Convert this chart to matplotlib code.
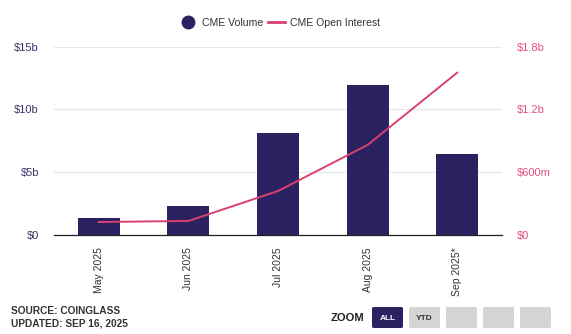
import matplotlib
matplotlib.use("Agg")
import matplotlib.pyplot as plt
from matplotlib.patches import FancyBboxPatch
from matplotlib.lines import Line2D

months = ["May 2025", "Jun 2025", "Jul 2025", "Aug 2025", "Sep 2025*"]
volume_b = [1.33, 2.31, 8.09, 11.93, 6.47]        # CME volume, $ billions
open_interest_b = [0.124, 0.134, 0.42, 0.86, 1.55]  # CME open interest, $ billions

vol_ticks = [0, 5, 10, 15]
vol_labels = ["$0", "$5b", "$10b", "$15b"]
oi_ticks = [0, 0.6, 1.2, 1.8]
oi_labels = ["$0", "$600m", "$1.2b", "$1.8b"]

navy = "#2b2262"
pink = "#d9416f"

plt.rcParams["font.family"] = ["Liberation Sans", "DejaVu Sans"]

W, H = 571, 334
fig = plt.figure(figsize=(W / 100, H / 100), dpi=100)
ax = fig.add_axes([54 / W, 1 - 235 / H, 448 / W, 188.5 / H])
ax2 = ax.twinx()

x = list(range(len(months)))
ax.bar(x, volume_b, width=0.47, color=navy, zorder=2)
ax2.plot(x, open_interest_b, color=pink, lw=1.4, zorder=3)

ax.set_xlim(-0.5, len(months) - 0.5)
ax.set_ylim(0, 15)
ax2.set_ylim(0, 1.8)

ax.set_yticks(vol_ticks)
ax.set_yticklabels(vol_labels, color="#3a3466", fontsize=8)
ax2.set_yticks(oi_ticks)
ax2.set_yticklabels(oi_labels, color="#e0507f", fontsize=8)
ax.set_xticks(x)
ax.set_xticklabels(months, rotation=90, fontsize=7.5, color="#333333")

ax.grid(axis="y", color="#e6e6e6", lw=0.8, zorder=0)
for a in (ax, ax2):
    for s in a.spines.values():
        s.set_visible(False)
    a.tick_params(length=0)
ax.spines["bottom"].set_visible(True)
ax.spines["bottom"].set_color("#222222")
ax.spines["bottom"].set_linewidth(0.9)
ax.tick_params(axis="y", pad=10.8)
ax2.tick_params(axis="y", pad=10.8)
ax.tick_params(axis="x", pad=9)
ax.set_zorder(ax2.get_zorder() - 1)
ax.patch.set_visible(False)

handles = [
    Line2D([], [], marker="o", color="none", markerfacecolor=navy,
           markeredgecolor=navy, markersize=9),
    Line2D([], [], color=pink, lw=2),
]
fig.legend(handles, ["CME Volume", "CME Open Interest"], loc="center",
           bbox_to_anchor=(280 / W, 1 - 22.5 / H), ncol=2, frameon=False,
           fontsize=7.6, handlelength=1.6, handletextpad=0.5, columnspacing=0.5,
           labelcolor="#333333")

fig.text(11 / W, 1 - 311.5 / H, "SOURCE: COINGLASS", fontsize=7.3,
         fontweight="bold", color="#333333", va="center")
fig.text(11 / W, 1 - 323.5 / H, "UPDATED: SEP 16, 2025", fontsize=7.3,
         fontweight="bold", color="#333333", va="center")

fig.text(331 / W, 1 - 318 / H, "ZOOM", fontsize=8, fontweight="bold",
         color="#222222", va="center")
buttons = ["ALL", "YTD", "", "", ""]
for i, lab in enumerate(buttons):
    bx = 372 + 37 * i
    fc = navy if i == 0 else "#d4d4d4"
    fig.patches.append(FancyBboxPatch((bx / W, 1 - 328 / H), 31 / W, 21 / H,
                                      boxstyle="round,pad=0,rounding_size=0.004",
                                      transform=fig.transFigure, fc=fc, ec="none"))
    if lab:
        fig.text((bx + 15.5) / W, 1 - 318 / H, lab, fontsize=6, fontweight="bold",
                 color="white" if i == 0 else "#333333", ha="center", va="center")

fig.savefig("out.png", dpi=100)
